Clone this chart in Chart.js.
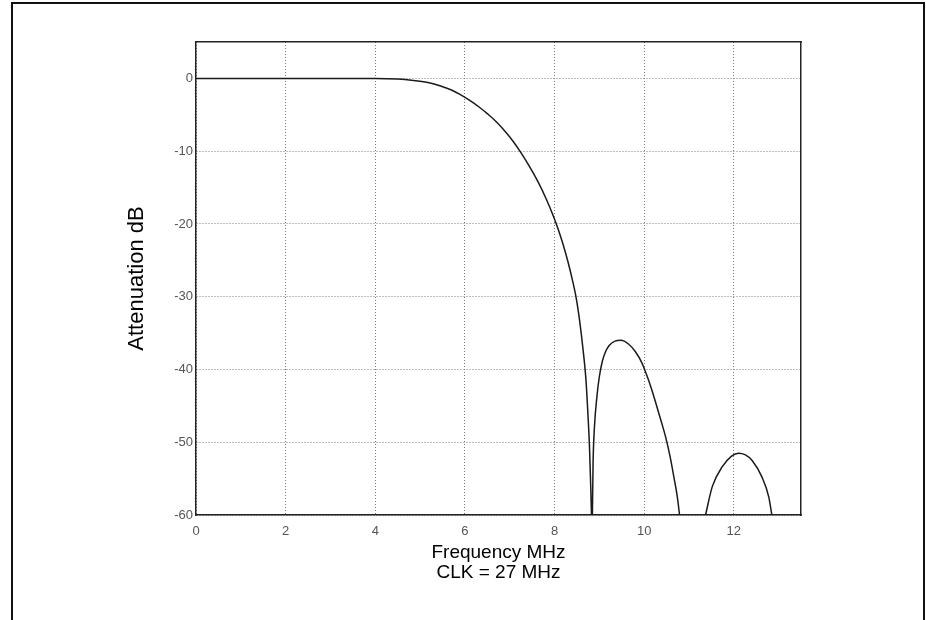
<!DOCTYPE html>
<html>
<head>
<meta charset="utf-8">
<script src="https://cdn.jsdelivr.net/npm/chart.js@4.4.1/dist/chart.umd.min.js"></script>
<style>
  html, body { margin: 0; padding: 0; background: #fff; overflow: hidden; }
  #wrap { position: relative; width: 926px; height: 620px; }
  #frame { position: absolute; left: 11px; top: 2px; width: 914px; height: 700px;
           box-sizing: border-box; border: 2px solid #111; border-bottom: none; pointer-events: none; }
</style>
</head>
<body>
<div id="wrap">
  <canvas id="c"></canvas>
  <div id="frame"></div>
</div>
<script>
// Frequency (MHz) and attenuation (dB); null = curve below -60 dB (clipped)
const freq = [0, 1, 2, 3, 4, 4.5, 4.85, 5.2, 5.44, 5.7, 5.89, 6.1, 6.33, 6.5, 6.7, 6.9, 7.07, 7.25, 7.44, 7.63, 7.81, 7.96, 8.08, 8.19, 8.3, 8.41, 8.49, 8.56, 8.63, 8.7, 8.74, 8.78, 8.81, 8.825,
              8.835,
              8.845, 8.86, 8.89, 8.95, 9.0, 9.07, 9.15, 9.22, 9.35, 9.48, 9.65, 9.81, 9.95, 10.04, 10.15, 10.26, 10.37, 10.48, 10.58, 10.67, 10.74, 10.79,
              11.0,
              11.37, 11.52, 11.74, 11.95, 12.11, 12.25, 12.41, 12.63, 12.78, 12.85];
const atten = [0, 0, 0, 0, 0, -0.1, -0.3, -0.6, -1.0, -1.6, -2.2, -3.0, -4.0, -4.85, -5.95, -7.3, -8.6, -10.2, -12.1, -14.2, -16.5, -18.7, -20.7, -22.8, -25.2, -28.0, -30.4, -33.3, -36.9, -41.3, -45.5, -50.6, -56.5, -60,
               null,
               -60, -53, -48, -43.5, -41, -38.8, -37.4, -36.7, -36.1, -36.0, -36.5, -37.6, -39.1, -40.5, -42.4, -44.6, -46.9, -49.3, -52.0, -55.0, -57.5, -60,
               null,
               -60, -56.1, -53.4, -51.9, -51.5, -51.7, -52.5, -54.8, -57.5, -60];
const xTickValues = [0, 2, 4, 6, 8, 10, 12];
const yTickValues = [0, -10, -20, -30, -40, -50, -60];
const xRange = [0, 13.5];
const yRange = [-60, 5];
const xTitle = ['Frequency MHz', 'CLK = 27 MHz'];
const yTitle = 'Attenuation dB';

const points = freq.map((f, i) => ({ x: f, y: atten[i] }));

const gridStyle = { color: '#7a7a7a', lineWidth: 1, drawTicks: false };
const borderStyle = { display: true, color: '#222', width: 1.5, dash: [1, 2] };
const tickFont = { family: 'Liberation Sans, Arial, sans-serif', size: 13 };

new Chart(document.getElementById('c'), {
  type: 'line',
  data: {
    datasets: [{
      data: points,
      borderColor: '#1a1a1a',
      borderWidth: 1.5,
      pointRadius: 0,
      fill: false,
      spanGaps: false,
      cubicInterpolationMode: 'monotone'
    }]
  },
  options: {
    responsive: true,
    maintainAspectRatio: false,
    animation: false,
    layout: { padding: { left: 0, top: 42, right: 125, bottom: 0 } },
    plugins: { legend: { display: false }, tooltip: { enabled: false } },
    scales: {
      x: {
        type: 'linear',
        min: xRange[0], max: xRange[1],
        afterBuildTicks: s => { s.ticks = xTickValues.map(v => ({ value: v })); },
        afterFit: s => { s.height = 105; },
        ticks: { padding: 9, color: '#555', font: tickFont, maxRotation: 0 },
        grid: { ...gridStyle },
        border: { ...borderStyle },
        title: {
          display: true, text: xTitle, color: '#000',
          font: { family: 'Liberation Sans, Arial, sans-serif', size: 19, lineHeight: 1.05 },
          padding: { top: 0, bottom: 37 }
        }
      },
      y: {
        type: 'linear',
        min: yRange[0], max: yRange[1],
        afterBuildTicks: s => { s.ticks = yTickValues.map(v => ({ value: v })); },
        afterFit: s => { s.width = 196; },
        ticks: { padding: 3, color: '#555', font: tickFont },
        grid: { ...gridStyle },
        border: { ...borderStyle },
        title: {
          display: true, text: yTitle, color: '#000',
          font: { family: 'Liberation Sans, Arial, sans-serif', size: 22, lineHeight: 1.2 },
          padding: { top: 124, bottom: 0 }
        }
      },
      xTop: {
        type: 'linear', position: 'top',
        min: xRange[0], max: xRange[1],
        afterFit: s => { s.height = 0; },
        ticks: { display: false },
        grid: { display: false, drawTicks: false },
        border: { display: true, color: '#222', width: 1.5 }
      },
      yRight: {
        type: 'linear', position: 'right',
        min: yRange[0], max: yRange[1],
        afterFit: s => { s.width = 0; },
        ticks: { display: false },
        grid: { display: false, drawTicks: false },
        border: { display: true, color: '#222', width: 1.5 }
      }
    }
  }
});
</script>
</body>
</html>
